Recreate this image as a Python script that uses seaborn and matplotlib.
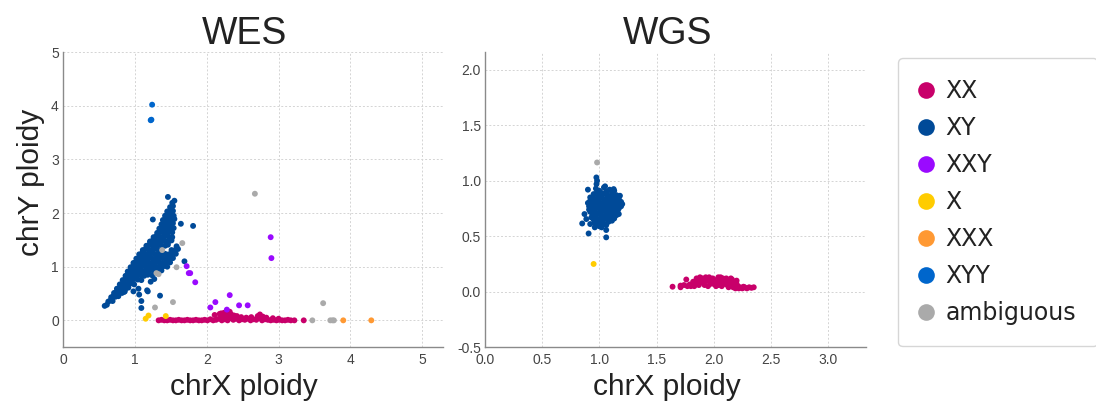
import pandas as pd
import matplotlib
matplotlib.use("Agg")
import matplotlib.pyplot as plt
from matplotlib.lines import Line2D
import seaborn as sns

# ---- data (chrX ploidy, chrY ploidy) ----
sexes = ["XX", "XY", "XXY", "X", "XXX", "XYY", "ambiguous"]
colors = ["#C8006A", "#004A98", "#9A0AFF", "#FFCC00", "#FF9933", "#0066CC", "#AAAAAA"]

wes_xx = [(1.33, 0.0), (1.37, 0.01), (1.41, 0.0), (1.45, 0.0), (1.49, 0.01), (1.53, 0.0), (1.57, 0.0),
          (1.61, 0.01), (1.65, 0.0), (1.69, 0.0), (1.73, 0.01), (1.77, 0.0), (1.81, 0.0), (1.85, 0.01),
          (1.89, 0.0), (1.93, 0.0), (1.97, 0.01), (2.01, 0.0), (2.05, 0.02), (2.09, 0.0), (2.13, 0.01),
          (2.17, 0.03), (2.21, 0.0), (2.25, 0.02), (2.29, 0.0), (2.33, 0.04), (2.37, 0.01), (2.41, 0.03),
          (2.45, 0.0), (2.49, 0.02), (2.53, 0.01), (2.57, 0.03), (2.61, 0.0), (2.65, 0.02), (2.69, 0.01),
          (2.73, 0.04), (2.77, 0.0), (2.81, 0.02), (2.85, 0.01), (2.89, 0.0), (2.93, 0.01), (2.97, 0.0),
          (3.01, 0.01), (3.05, 0.0), (3.09, 0.0), (3.13, 0.01), (3.17, 0.0), (3.22, 0.0), (3.35, 0.0),
          (2.11, 0.10), (2.18, 0.12), (2.20, 0.13), (2.24, 0.14), (2.28, 0.12), (2.30, 0.14), (2.34, 0.11),
          (2.38, 0.09), (2.42, 0.08), (2.22, 0.07), (2.27, 0.06), (2.35, 0.06), (2.48, 0.06), (2.55, 0.05),
          (2.62, 0.06), (2.71, 0.08), (2.74, 0.11), (2.78, 0.07), (2.83, 0.05), (2.32, 0.16), (2.92, 0.04),
          (3.00, 0.03)]

wes_xy = [(0.58, 0.27), (0.61, 0.29),
          (0.63, 0.35), (0.66, 0.37), (0.69, 0.36),
          (0.67, 0.43), (0.70, 0.45), (0.73, 0.44), (0.77, 0.45),
          (0.71, 0.51), (0.74, 0.53), (0.78, 0.52), (0.82, 0.51), (0.85, 0.53),
          (0.75, 0.59), (0.79, 0.61), (0.83, 0.60), (0.87, 0.59), (0.91, 0.61),
          (0.79, 0.67), (0.83, 0.69), (0.87, 0.68), (0.91, 0.67), (0.95, 0.69), (0.99, 0.67),
          (0.83, 0.75), (0.87, 0.77), (0.91, 0.76), (0.95, 0.75), (0.99, 0.77), (1.04, 0.76), (1.09, 0.75),
          (0.87, 0.83), (0.91, 0.85), (0.95, 0.84), (0.99, 0.83), (1.03, 0.85), (1.08, 0.84), (1.13, 0.83),
          (1.18, 0.85), (1.24, 0.84),
          (0.90, 0.91), (0.94, 0.93), (0.98, 0.92), (1.02, 0.91), (1.06, 0.93), (1.11, 0.92), (1.16, 0.91),
          (1.21, 0.93), (1.27, 0.92), (1.32, 0.91), (1.37, 0.93),
          (0.94, 0.99), (0.98, 1.01), (1.02, 1.00), (1.06, 0.99), (1.10, 1.01), (1.15, 1.00), (1.20, 0.99),
          (1.25, 1.01), (1.30, 1.00), (1.35, 0.99), (1.40, 1.01), (1.45, 1.00),
          (0.98, 1.07), (1.02, 1.09), (1.06, 1.08), (1.10, 1.07), (1.14, 1.09), (1.19, 1.08), (1.24, 1.07),
          (1.29, 1.09), (1.34, 1.08), (1.39, 1.07), (1.44, 1.09), (1.49, 1.08),
          (1.02, 1.15), (1.06, 1.17), (1.10, 1.16), (1.14, 1.15), (1.18, 1.17), (1.23, 1.16), (1.28, 1.15),
          (1.33, 1.17), (1.38, 1.16), (1.43, 1.15), (1.48, 1.17), (1.53, 1.16),
          (1.06, 1.23), (1.10, 1.25), (1.14, 1.24), (1.18, 1.23), (1.22, 1.25), (1.27, 1.24), (1.32, 1.23),
          (1.37, 1.25), (1.42, 1.24), (1.47, 1.23), (1.52, 1.25), (1.57, 1.24),
          (1.11, 1.31), (1.15, 1.33), (1.19, 1.32), (1.23, 1.31), (1.27, 1.33), (1.32, 1.32), (1.37, 1.31),
          (1.51, 1.31), (1.56, 1.31), (1.60, 1.33),
          (1.16, 1.39), (1.20, 1.41), (1.24, 1.40), (1.28, 1.39), (1.32, 1.41), (1.37, 1.40), (1.42, 1.39),
          (1.46, 1.41), (1.58, 1.38),
          (1.21, 1.47), (1.25, 1.49), (1.29, 1.48), (1.33, 1.47), (1.37, 1.49), (1.42, 1.48), (1.47, 1.47),
          (1.51, 1.49),
          (1.26, 1.55), (1.30, 1.57), (1.34, 1.56), (1.38, 1.55), (1.42, 1.57), (1.47, 1.56), (1.52, 1.55),
          (1.31, 1.63), (1.35, 1.65), (1.39, 1.64), (1.43, 1.63), (1.47, 1.65), (1.52, 1.64),
          (1.34, 1.71), (1.38, 1.73), (1.42, 1.72), (1.46, 1.71), (1.50, 1.73), (1.54, 1.72),
          (1.37, 1.79), (1.41, 1.81), (1.45, 1.80), (1.49, 1.79), (1.53, 1.81),
          (1.39, 1.87), (1.43, 1.89), (1.47, 1.88), (1.51, 1.87), (1.55, 1.89),
          (1.42, 1.95), (1.46, 1.97), (1.50, 1.96), (1.54, 1.95),
          (1.45, 2.03), (1.49, 2.05), (1.53, 2.04),
          (1.49, 2.11), (1.53, 2.13), (1.52, 2.19),
          (1.46, 2.30), (1.55, 2.23), (1.25, 1.88), (1.64, 1.80), (1.81, 1.76), (1.69, 1.10),
          (0.86, 0.54), (0.98, 0.54), (1.05, 0.59), (1.06, 0.48), (1.18, 0.54), (1.09, 0.36), (1.09, 0.23),
          (1.17, 0.56), (1.35, 0.46), (1.22, 0.72), (1.27, 0.77)]

wes_xxy = [(2.89, 1.55), (2.90, 1.16), (1.72, 1.01), (1.75, 0.88), (1.77, 0.88), (1.84, 0.71), (2.32, 0.47),
           (2.12, 0.34), (2.05, 0.24), (2.45, 0.28), (2.57, 0.28), (2.28, 0.20)]
wes_x = [(1.15, 0.03), (1.19, 0.09), (1.43, 0.08)]
wes_xxx = [(3.90, 0.0), (4.29, 0.0)]
wes_xyy = [(1.24, 4.02), (1.22, 3.73), (1.23, 3.74)]
wes_amb = [(2.67, 2.36), (1.28, 0.24), (1.53, 0.34), (3.62, 0.32), (3.47, 0.0), (3.72, 0.0), (3.75, 0.0),
           (3.77, 0.0), (1.66, 1.44), (1.30, 0.88), (1.33, 0.86), (1.38, 1.31), (1.58, 0.99)]

wgs_xx = [(1.64, 0.045), (1.71, 0.055), (1.71, 0.04), (1.74, 0.06), (1.76, 0.11), (1.79, 0.065), (1.82, 0.09),
          (1.80, 0.05), (1.84, 0.07), (1.86, 0.10), (1.88, 0.08), (1.90, 0.12), (1.92, 0.06), (1.94, 0.10),
          (1.96, 0.13), (1.98, 0.08), (2.00, 0.11), (2.02, 0.05), (2.04, 0.13), (2.06, 0.09), (2.08, 0.12),
          (2.10, 0.07), (2.12, 0.10), (2.14, 0.06), (2.16, 0.11), (2.18, 0.08), (2.20, 0.10), (1.87, 0.06),
          (1.91, 0.09), (1.95, 0.05), (1.99, 0.12), (2.03, 0.08), (2.07, 0.05), (2.11, 0.12), (2.15, 0.09),
          (2.19, 0.05), (1.89, 0.11), (1.93, 0.13), (1.97, 0.07), (2.01, 0.09), (2.05, 0.11), (2.09, 0.10),
          (2.13, 0.04), (2.17, 0.04), (2.21, 0.05), (2.23, 0.04), (2.25, 0.03), (2.27, 0.04), (2.29, 0.03),
          (2.31, 0.04), (2.33, 0.035), (2.35, 0.04), (2.22, 0.03), (2.26, 0.045), (2.19, 0.03),
          (1.85, 0.12), (1.88, 0.13), (1.92, 0.11), (1.96, 0.10), (2.00, 0.07), (2.04, 0.06), (2.08, 0.08),
          (2.12, 0.06), (2.16, 0.07), (2.20, 0.07), (2.06, 0.13), (2.15, 0.12), (1.83, 0.05), (1.77, 0.05)]

wgs_xy = [(0.97, 0.93), (1.00, 0.91), (1.04, 0.94), (1.09, 0.92), (1.13, 0.91), (0.95, 0.88), (0.99, 0.86),
          (1.03, 0.88), (1.07, 0.87), (1.11, 0.86), (1.15, 0.87), (0.92, 0.82), (0.96, 0.83), (1.00, 0.81),
          (1.04, 0.83), (1.08, 0.82), (1.12, 0.81), (1.16, 0.83), (1.19, 0.81), (0.91, 0.77), (0.95, 0.78),
          (0.99, 0.76), (1.03, 0.78), (1.07, 0.77), (1.11, 0.76), (1.15, 0.78), (1.19, 0.77), (0.92, 0.72),
          (0.96, 0.73), (1.00, 0.71), (1.04, 0.73), (1.08, 0.72), (1.12, 0.71), (1.16, 0.73), (0.93, 0.67),
          (0.97, 0.68), (1.01, 0.66), (1.05, 0.68), (1.09, 0.67), (1.13, 0.66), (1.15, 0.69), (0.96, 0.62),
          (1.00, 0.63), (1.04, 0.61), (1.08, 0.63), (1.11, 0.64), (0.974, 1.03), (0.98, 1.00), (0.975, 0.97),
          (0.90, 0.92), (1.05, 0.95), (1.125, 0.925), (1.18, 0.865), (1.20, 0.79), (1.17, 0.70), (0.85, 0.615),
          (0.87, 0.70), (0.886, 0.655), (0.906, 0.525), (1.06, 0.556), (1.06, 0.49), (0.92, 0.61), (0.96, 0.58),
          (1.00, 0.59), (0.92, 0.85), (0.90, 0.80), (0.91, 0.74), (1.02, 0.58),
          (0.98, 0.90), (1.02, 0.89), (1.06, 0.90), (1.11, 0.89), (0.94, 0.85), (0.98, 0.84), (1.02, 0.85),
          (1.06, 0.84), (1.10, 0.84), (1.14, 0.85), (1.17, 0.84), (0.93, 0.80), (0.97, 0.80), (1.01, 0.79),
          (1.05, 0.80), (1.09, 0.79), (1.13, 0.79), (1.17, 0.80), (0.93, 0.75), (0.97, 0.75), (1.01, 0.74),
          (1.05, 0.75), (1.09, 0.74), (1.13, 0.74), (1.17, 0.75), (0.94, 0.70), (0.98, 0.70), (1.02, 0.69),
          (1.06, 0.70), (1.10, 0.69), (1.14, 0.70), (0.95, 0.65), (0.99, 0.65), (1.03, 0.64), (1.07, 0.65),
          (1.11, 0.66), (0.98, 0.60), (1.02, 0.61), (1.06, 0.60)]
wgs_x = [(0.95, 0.25)]
wgs_amb = [(0.98, 1.165)]

rows = []
for panel, groups in [("WES", [wes_xx, wes_xy, wes_xxy, wes_x, wes_xxx, wes_xyy, wes_amb]),
                      ("WGS", [wgs_xx, wgs_xy, [], wgs_x, [], [], wgs_amb])]:
    for sex, pts in zip(sexes, groups):
        for x, y in pts:
            rows.append({"panel": panel, "sex": sex, "chrX": x, "chrY": y})
df = pd.DataFrame(rows)
palette = dict(zip(sexes, colors))

sns.set_theme(style="white")
fig = plt.figure(figsize=(10.96, 4.07), dpi=100)
ax1 = fig.add_axes([0.0575, 0.147, 0.3465, 0.725])
ax2 = fig.add_axes([0.4425, 0.147, 0.3475, 0.725])

settings = {
    "WES": dict(ax=ax1, xlim=(0, 5.285), ylim=(-0.5, 5.0), xt=[0, 1, 2, 3, 4, 5], yt=[0, 1, 2, 3, 4, 5], fmt="{:.0f}"),
    "WGS": dict(ax=ax2, xlim=(0, 3.33), ylim=(-0.5, 2.16), xt=[0, 0.5, 1, 1.5, 2, 2.5, 3],
                yt=[-0.5, 0, 0.5, 1, 1.5, 2], fmt="{:.1f}"),
}

for panel, st in settings.items():
    ax = st["ax"]
    sns.scatterplot(data=df[df["panel"] == panel], x="chrX", y="chrY", hue="sex", hue_order=sexes,
                    palette=palette, s=18, linewidth=0, legend=False, ax=ax)
    ax.set_xlim(*st["xlim"])
    ax.set_ylim(*st["ylim"])
    ax.set_xticks(st["xt"])
    ax.set_yticks(st["yt"])
    ax.set_xticklabels([st["fmt"].format(v) for v in st["xt"]], family="Liberation Sans")
    ax.set_yticklabels([st["fmt"].format(v) for v in st["yt"]], family="Liberation Sans")
    ax.grid(True, color="#d4d4d4", linestyle=(0, (2, 2)), linewidth=0.7)
    ax.set_axisbelow(True)
    for side in ["top", "right"]:
        ax.spines[side].set_visible(False)
    for side in ["left", "bottom"]:
        ax.spines[side].set_color("#8a8a8a")
        ax.spines[side].set_linewidth(1.0)
    ax.tick_params(axis="both", labelcolor="#444444", labelsize=10, length=0)
    ax.tick_params(axis="x", pad=4.5)
    ax.tick_params(axis="y", pad=3)
    ax.set_title(panel, fontsize=27, family="Liberation Sans", color="#222222", pad=6, x=0.479)
    ax.set_xlabel("chrX ploidy", fontsize=21.5, family="Liberation Sans", color="#222222",
                  labelpad=4, x=0.477)
    ax.set_ylabel("")

ax1.set_ylabel("chrY ploidy", fontsize=21.5, family="Liberation Sans", color="#222222",
               labelpad=4, y=0.56)

handles = [Line2D([0], [0], marker="o", linestyle="", markersize=12, markerfacecolor=c,
                  markeredgewidth=0) for c in colors]
leg = fig.legend(handles, sexes, loc="upper left", bbox_to_anchor=(0.8195, 0.8575),
                 fontsize=17, frameon=True, fancybox=True, labelspacing=0.55, borderaxespad=0,
                 handletextpad=0.52, handlelength=0.58, borderpad=0.9)
leg.get_frame().set_edgecolor("#cccccc")
leg.get_frame().set_linewidth(1.0)
for t in leg.get_texts():
    t.set_color("#222222")

fig.savefig("out.png", dpi=100)
